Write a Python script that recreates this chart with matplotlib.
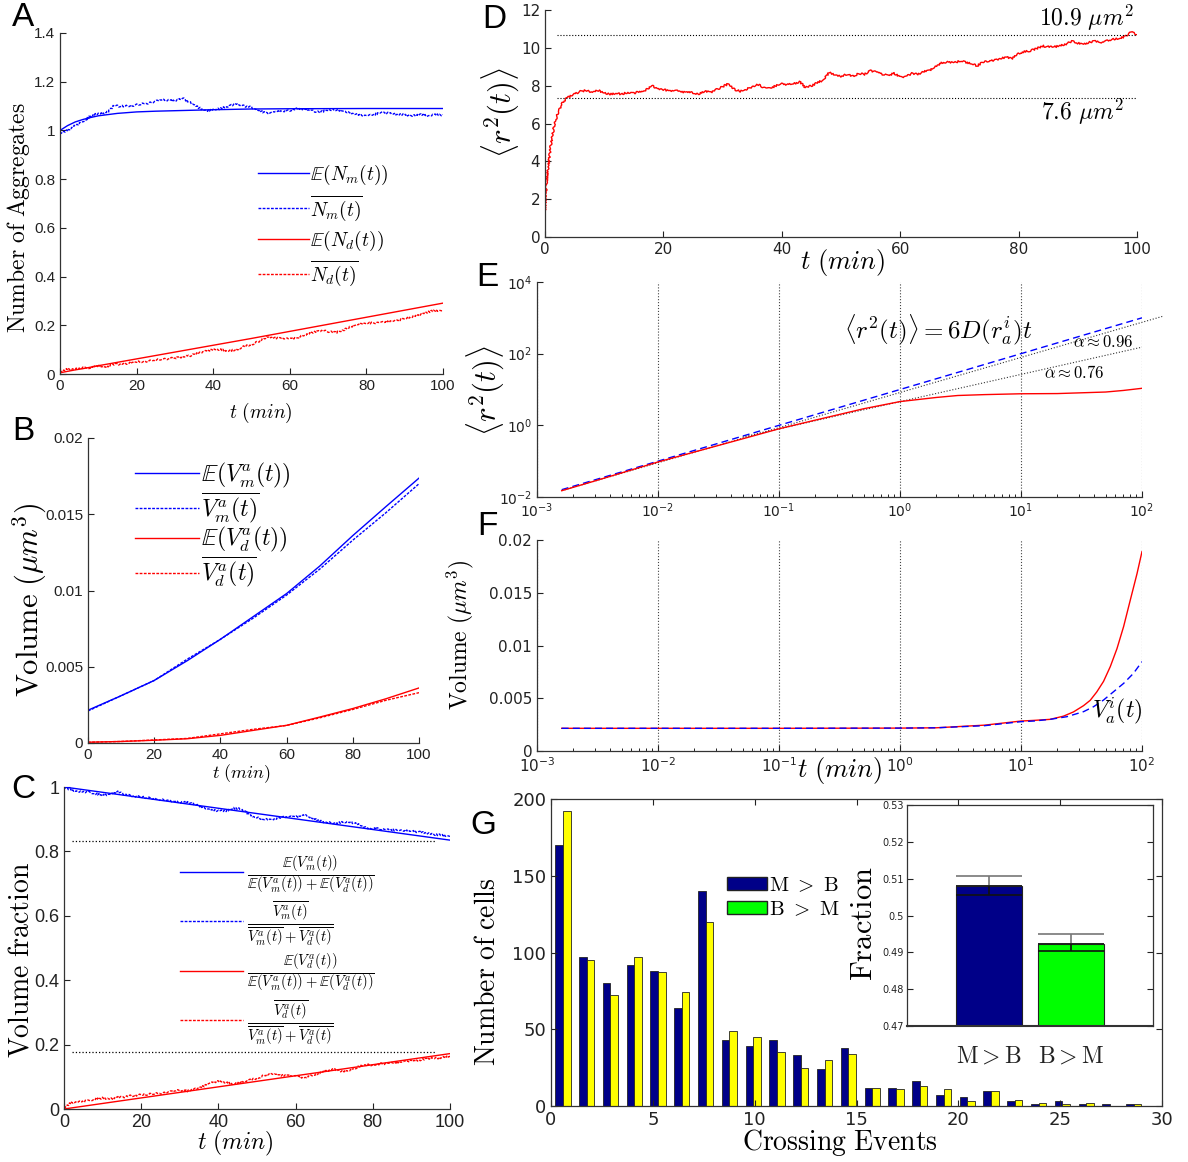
import numpy as np
import matplotlib
matplotlib.use('Agg')
import matplotlib.pyplot as plt
from matplotlib.lines import Line2D
from matplotlib.patches import Patch
from matplotlib.ticker import FormatStrFormatter, NullLocator, LogLocator

plt.rcParams['mathtext.fontset'] = 'cm'
plt.rcParams['font.family'] = ['DejaVu Sans']
plt.rcParams['axes.unicode_minus'] = False

# ---------------- data ----------------
# Panel A: number of aggregates
tA_model = [0, 2, 4, 6, 8, 10, 15, 20, 25, 30, 40, 50, 60, 80, 100]
A_Nm_model = [1.0, 1.02, 1.035, 1.045, 1.053, 1.06, 1.07, 1.076, 1.079, 1.081, 1.085, 1.088, 1.089, 1.09, 1.09]
A_Nd_model = [0.005, 0.011, 0.017, 0.022, 0.028, 0.034, 0.048, 0.062, 0.076, 0.09, 0.118, 0.146, 0.175, 0.233, 0.291]
t_obs = list(range(0, 101, 2))
A_Nm_obs = [0.99, 1.0, 1.02, 1.035, 1.06, 1.07, 1.07, 1.1, 1.1, 1.1, 1.105, 1.11, 1.115, 1.125, 1.125,
            1.12, 1.132, 1.115, 1.095, 1.08, 1.085, 1.09, 1.1, 1.11, 1.1, 1.095, 1.08, 1.07, 1.075, 1.08,
            1.08, 1.09, 1.085, 1.08, 1.075, 1.085, 1.085, 1.08, 1.07, 1.065, 1.06, 1.065, 1.075, 1.07,
            1.065, 1.065, 1.06, 1.065, 1.06, 1.065, 1.062]
A_Nd_obs = [0.01, 0.02, 0.02, 0.025, 0.025, 0.035, 0.03, 0.04, 0.04, 0.045, 0.05, 0.05, 0.055, 0.06, 0.062,
            0.066, 0.07, 0.075, 0.085, 0.095, 0.1, 0.1, 0.095, 0.1, 0.113, 0.12, 0.135, 0.152, 0.148, 0.145,
            0.144, 0.15, 0.16, 0.17, 0.178, 0.175, 0.17, 0.18, 0.195, 0.206, 0.208, 0.21, 0.212, 0.215,
            0.22, 0.226, 0.235, 0.245, 0.255, 0.26, 0.262]

# Panel B: aggregate volumes
tB = [0, 10, 20, 30, 40, 50, 60, 70, 80, 90, 100]
B_Vm_model = [0.00215, 0.0031, 0.0041, 0.0054, 0.0068, 0.0083, 0.0098, 0.0116, 0.0136, 0.0155, 0.01737]
B_Vm_obs = [0.0021, 0.0031, 0.0041, 0.0055, 0.0068, 0.0082, 0.0097, 0.0114, 0.0133, 0.0151, 0.0170]
B_Vd_model = [0.00005, 0.0001, 0.00018, 0.00028, 0.0005, 0.00083, 0.00116, 0.0017, 0.00226, 0.0029, 0.00361]
B_Vd_obs = [0.00005, 0.0001, 0.0002, 0.0003, 0.0006, 0.0009, 0.00115, 0.00165, 0.0022, 0.0028, 0.0033]

# Panel C: volume fractions
tC_model = [0, 100]
C_m_model = [1.0, 0.835]
C_d_model = [0.0, 0.172]
C_m_obs = [1.0, 0.99, 0.985, 0.985, 0.98, 0.974, 0.978, 0.985, 0.975, 0.972, 0.969, 0.966, 0.962, 0.96,
           0.956, 0.953, 0.952, 0.945, 0.938, 0.928, 0.926, 0.926, 0.934, 0.932, 0.915, 0.905, 0.899, 0.9,
           0.905, 0.907, 0.907, 0.913, 0.905, 0.895, 0.89, 0.888, 0.89, 0.892, 0.885, 0.874, 0.871, 0.87,
           0.867, 0.866, 0.864, 0.863, 0.86, 0.856, 0.853, 0.85, 0.848]
C_d_obs = [0.005, 0.02, 0.022, 0.025, 0.03, 0.034, 0.032, 0.036, 0.038, 0.042, 0.044, 0.046, 0.048, 0.05,
           0.055, 0.058, 0.056, 0.062, 0.07, 0.082, 0.086, 0.082, 0.078, 0.085, 0.09, 0.095, 0.105, 0.11,
           0.105, 0.103, 0.101, 0.098, 0.103, 0.11, 0.118, 0.124, 0.117, 0.12, 0.13, 0.137, 0.137, 0.14,
           0.142, 0.145, 0.147, 0.15, 0.152, 0.155, 0.158, 0.16, 0.165]
C_ref_levels = [0.832, 0.177]

# Panel D: mean squared displacement
tD = [0, 0.2, 0.5, 1, 1.5, 2, 2.5, 3, 3.5, 4] + list(range(5, 101))
D_msd = [1.4, 2.6, 3.6, 4.9, 5.8, 6.4, 6.8, 7.1, 7.3, 7.4,
         7.55, 7.7, 7.75, 7.65, 7.75, 7.6, 7.55, 7.6, 7.55, 7.65, 7.6, 7.7, 7.75, 8.0, 7.85, 7.8,
         7.7, 7.75, 7.65, 7.7, 7.6, 7.55, 7.7, 7.65, 7.8, 7.95, 8.1, 7.8, 7.7, 7.8, 7.95, 8.05, 7.9,
         7.85, 8.0, 8.1, 8.05, 8.1, 8.2, 7.9, 8.0, 8.15, 8.3, 8.7, 8.55, 8.5, 8.6, 8.5, 8.65, 8.6,
         8.8, 8.7, 8.6, 8.55, 8.65, 8.45, 8.5, 8.65, 8.6, 8.75, 8.8, 9.0, 9.2, 9.25, 9.2, 9.3, 9.25,
         9.15, 9.05, 9.25, 9.3, 9.35, 9.45, 9.5, 9.45, 9.7, 9.8, 9.85, 9.95, 10.1, 10.05, 10.05, 10.1,
         10.2, 10.35, 10.25, 10.2, 10.3, 10.35, 10.3, 10.4, 10.45, 10.5, 10.6, 10.85, 10.7]
D_ref_levels = [10.68, 7.37]

# Panel E: log-log MSD
tE = [0.0016, 0.003, 0.005, 0.01, 0.02, 0.05, 0.1, 0.2, 0.5, 1.0, 2, 3, 5, 10, 20, 50, 70, 100]
E_msd = [0.015, 0.028, 0.047, 0.095, 0.18, 0.42, 0.8, 1.4, 2.9, 4.6, 6.0, 6.8, 7.2, 7.6, 7.7, 8.5, 9.4, 10.8]
E_free_t = [0.0016, 100]
E_free = [0.016, 1000]
E_fit096_t = [0.0016, 147]
E_fit096 = [0.015, 1094]
E_fit076_t = [0.05, 100]
E_fit076 = [0.47, 152]

# Panel F: volume vs log time
tF_red = [0.0016, 0.1, 1, 2, 5, 10, 12.7, 17.4, 22.4, 27.1, 32.9, 37.3, 42.3, 48.1, 54.7, 62.1, 70.5,
          80, 90.9, 100]
F_red = [0.00215, 0.00215, 0.00217, 0.0022, 0.00245, 0.00284, 0.0029, 0.0030, 0.0033, 0.0037, 0.0043,
         0.0048, 0.0056, 0.0066, 0.0080, 0.0097, 0.0118, 0.0143, 0.0168, 0.0189]
tF_blue = [0.0016, 0.1, 1, 2, 5, 10, 12.7, 17.4, 23.9, 32.9, 39.8, 48.1, 58.2, 70.5, 85, 100]
F_blue = [0.00215, 0.00215, 0.00217, 0.0022, 0.0024, 0.00278, 0.00284, 0.0030, 0.00325, 0.00373, 0.0042,
          0.00483, 0.00562, 0.00641, 0.00736, 0.00847]

# Panel G: crossing events histogram
G_range = (0, 29.2)
G_MB = [170, 97, 80, 92, 88, 64, 140, 43, 39, 43, 33, 24, 38, 12, 12, 16, 7, 6, 10, 3, 1, 3, 1, 1, 1]
G_BM = [192, 95, 72, 97, 87, 74, 120, 49, 45, 35, 25, 30, 34, 12, 11, 13, 11, 3, 10, 4, 2, 1, 2, 0, 1]
inset_labels = ['M{>}B', 'B{>}M']
inset_vals = [0.508, 0.4922]
inset_err_up = [0.0027, 0.0028]
inset_err_lo = [0.0023, 0.0018]

# ---------------- layout ----------------
W, H = 1188, 1162
fig = plt.figure(figsize=(W / 100, H / 100), dpi=100)


def box(l, t, r, b):
    return [l / W, 1 - b / H, (r - l) / W, (b - t) / H]


def fpos(x, y):
    return (x / W, 1 - y / H)


BLUE = '#0000FF'
RED = '#FF0000'
SPINE = '#333333'
JITTER = (0.9, 2.0, 2.5)   # rendering style for the simulated (noisy) traces


def style(ax, family, size, box_on=False):
    ax.tick_params(direction='in', length=4, width=0.8, labelsize=size, colors='#222222',
                   labelfontfamily=family, top=box_on, right=box_on)
    ax.tick_params(which='minor', direction='in', length=2, width=0.6, top=box_on, right=box_on)
    for s in ['top', 'right']:
        ax.spines[s].set_visible(box_on)
    for s in ax.spines.values():
        s.set_color(SPINE)
        s.set_linewidth(0.9)
    ax.set_facecolor('none')


def set_labels(ax, xlabel=None, xpos=None, xsize=14, ylabel=None, ypos=None, ysize=14):
    if xlabel is not None:
        ax.set_xlabel(xlabel, fontsize=xsize)
        ax.xaxis.set_label_coords(*fpos(*xpos), transform=fig.transFigure)
        ax.xaxis.label.set_va('center')
    if ylabel is not None:
        ax.set_ylabel(ylabel, fontsize=ysize)
        ax.yaxis.set_label_coords(*fpos(*ypos), transform=fig.transFigure)
        ax.yaxis.label.set_va('center')


def panel_label(ch, x, y, family='Liberation Sans'):
    fig.text(*fpos(x, y), ch, fontsize=24, family=[family, 'Liberation Sans', 'DejaVu Sans'],
             ha='center', va='center')


def noisy(ax, x, y, **kw):
    ln, = ax.plot(x, y, **kw)
    ln.set_sketch_params(*JITTER)
    return ln


# ---- Panel A ----
axA = fig.add_axes(box(60, 33, 443, 374))
axA.plot(tA_model, A_Nm_model, color=BLUE, lw=1)
noisy(axA, t_obs, A_Nm_obs, color=BLUE, lw=1, ls=(0, (2, 1)))
axA.plot(tA_model, A_Nd_model, color=RED, lw=1)
noisy(axA, t_obs, A_Nd_obs, color=RED, lw=1, ls=(0, (2, 1)))
axA.set_xlim(0, 100)
axA.set_ylim(0, 1.4)
axA.set_xticks(range(0, 101, 20))
axA.set_yticks(np.arange(0, 1.41, 0.2))
axA.yaxis.set_major_formatter(FormatStrFormatter('%g'))
style(axA, 'Liberation Sans', 11)
set_labels(axA, r'$t\ (min)$', (261, 413), 14, r'$\mathrm{Number\ of\ Aggregates}$', (19, 218), 17)
hA = [Line2D([], [], color=BLUE, lw=1), Line2D([], [], color=BLUE, lw=1, ls=(0, (2, 1))),
      Line2D([], [], color=RED, lw=1), Line2D([], [], color=RED, lw=1, ls=(0, (2, 1)))]
lA = [r'$\mathbb{E}(N_m(t))$', r'$\overline{N_m(t)}$', r'$\mathbb{E}(N_d(t))$', r'$\overline{N_d(t)}$']
axA.legend(hA, lA, loc='upper left', bbox_to_anchor=fpos(258, 163), bbox_transform=fig.transFigure,
           frameon=False, fontsize=14, handlelength=2.6, handletextpad=0.1, labelspacing=0.3,
           borderpad=0, borderaxespad=0)
panel_label('A', 23, 18)

# ---- Panel B ----
axB = fig.add_axes(box(88, 438, 419, 743))
axB.plot(tB, B_Vm_model, color=BLUE, lw=1)
axB.plot(tB, B_Vm_obs, color=BLUE, lw=1, ls=(0, (2, 1)))
axB.plot(tB, B_Vd_model, color=RED, lw=1)
axB.plot(tB, B_Vd_obs, color=RED, lw=1, ls=(0, (2, 1)))
axB.set_xlim(0, 100)
axB.set_ylim(0, 0.02)
axB.set_xticks(range(0, 101, 20))
axB.set_yticks([0, 0.005, 0.01, 0.015, 0.02])
axB.yaxis.set_major_formatter(FormatStrFormatter('%g'))
style(axB, 'Liberation Sans', 11)
set_labels(axB, r'$t\ (min)$', (241, 774), 13, r'$\mathrm{Volume}\ (\mu m^3)$', (30, 600), 22)
lB = [r'$\mathbb{E}(V^a_m(t))$', r'$\overline{V^a_m(t)}$', r'$\mathbb{E}(V^a_d(t))$', r'$\overline{V^a_d(t)}$']
axB.legend(hA, lB, loc='upper left', bbox_to_anchor=fpos(135, 461), bbox_transform=fig.transFigure,
           frameon=False, fontsize=17, handlelength=2.7, handletextpad=0.1, labelspacing=0.02,
           borderpad=0, borderaxespad=0)
panel_label('B', 23, 432)

# ---- Panel C ----
axC = fig.add_axes(box(64, 787, 450, 1109))
axC.plot(tC_model, C_m_model, color=BLUE, lw=1)
noisy(axC, t_obs, C_m_obs, color=BLUE, lw=1, ls=(0, (2, 1)))
axC.plot(tC_model, C_d_model, color=RED, lw=1)
noisy(axC, t_obs, C_d_obs, color=RED, lw=1, ls=(0, (2, 1)))
axC.hlines(C_ref_levels, 2, 96, colors='k', linestyles=':', lw=0.9)
axC.set_xlim(0, 100)
axC.set_ylim(0, 1.0)
axC.set_xticks(range(0, 101, 20))
axC.set_yticks(np.arange(0, 1.01, 0.2))
axC.yaxis.set_major_formatter(FormatStrFormatter('%g'))
style(axC, 'Liberation Sans', 13)
set_labels(axC, r'$t\ (min)$', (235, 1143), 17, r'$\mathrm{Volume\ fraction}$', (21, 960), 20)
lC = [r'$\frac{\mathbb{E}(V^a_m(t))}{\mathbb{E}(V^a_m(t))+\mathbb{E}(V^a_d(t))}$',
      r'$\frac{\overline{V^a_m(t)}}{\overline{V^a_m(t)}+\overline{V^a_d(t)}}$',
      r'$\frac{\mathbb{E}(V^a_d(t))}{\mathbb{E}(V^a_m(t))+\mathbb{E}(V^a_d(t))}$',
      r'$\frac{\overline{V^a_d(t)}}{\overline{V^a_m(t)}+\overline{V^a_d(t)}}$']
axC.legend(hA, lC, loc='upper left', bbox_to_anchor=fpos(180, 853), bbox_transform=fig.transFigure,
           frameon=False, fontsize=15, handlelength=3.0, handletextpad=0.2, labelspacing=0.18,
           borderpad=0, borderaxespad=0)
panel_label('C', 23, 790)

# ---- Panel D ----
axD = fig.add_axes(box(545, 10, 1137, 237))
noisy(axD, tD, D_msd, color=RED, lw=1)
axD.hlines(D_ref_levels, 2, 100, colors='k', linestyles=':', lw=0.8)
axD.set_xlim(0, 100)
axD.set_ylim(0, 12)
axD.set_xticks(range(0, 101, 20))
axD.set_yticks(range(0, 13, 2))
style(axD, 'DejaVu Sans', 11)
set_labels(axD, r'$t\ (min)$', (843, 262), 19, r'$\langle r^2(t)\rangle$', (500, 112), 22)
fig.text(*fpos(1086, 18), r'$10.9\ \mu m^2$', fontsize=17, ha='center', va='center')
fig.text(*fpos(1083, 112), r'$7.6\ \mu m^2$', fontsize=17, ha='center', va='center')
panel_label('D', 494, 19, 'Liberation Sans Narrow')

# ---- Panel E ----
axE = fig.add_axes(box(537, 282, 1142, 497))
axE.set_xscale('log')
axE.set_yscale('log')
axE.plot(E_free_t, E_free, color=BLUE, lw=1, ls=(0, (5, 3)))
axE.plot(E_fit096_t, E_fit096, color='#333333', lw=0.8, ls=':', clip_on=False)
axE.plot(E_fit076_t, E_fit076, color='#333333', lw=0.8, ls=':')
axE.plot(tE, E_msd, color=RED, lw=1)
axE.set_xlim(1e-3, 1e2)
axE.set_ylim(1e-2, 1e4)
axE.set_xticks([1e-3, 1e-2, 1e-1, 1, 10, 100])
axE.set_yticks([1e-2, 1, 1e2, 1e4])
axE.yaxis.set_minor_locator(NullLocator())
axE.xaxis.set_minor_locator(LogLocator(base=10, subs=np.arange(2, 10)))
axE.grid(axis='x', which='major', ls=':', color='#444444', lw=0.8)
style(axE, 'DejaVu Sans', 10)
set_labels(axE, ylabel=r'$\langle r^2(t)\rangle$', ypos=(485, 390), ysize=22)
fig.text(*fpos(938, 330), r'$\langle r^2(t)\rangle = 6D(r^i_a)t$', fontsize=18, ha='center', va='center')
fig.text(*fpos(1103, 342), r'$\alpha\approx0.96$', fontsize=12, ha='center', va='center')
fig.text(*fpos(1074, 373), r'$\alpha\approx0.76$', fontsize=12, ha='center', va='center')
panel_label('E', 487, 277, 'Liberation Sans Narrow')

# ---- Panel F ----
axF = fig.add_axes(box(537, 540, 1142, 751))
axF.set_xscale('log')
axF.plot(tF_red, F_red, color=RED, lw=1)
axF.plot(tF_blue, F_blue, color=BLUE, lw=1, ls=(0, (5, 3)))
axF.set_xlim(1e-3, 1e2)
axF.set_ylim(0, 0.02)
axF.set_xticks([1e-3, 1e-2, 1e-1, 1, 10, 100])
axF.xaxis.set_minor_locator(LogLocator(base=10, subs=np.arange(2, 10)))
axF.set_yticks([0, 0.005, 0.01, 0.015, 0.02])
axF.yaxis.set_major_formatter(FormatStrFormatter('%g'))
axF.grid(axis='x', which='major', ls=':', color='#444444', lw=0.8)
style(axF, 'DejaVu Sans', 11)
set_labels(axF, r'$t\ (min)$', (840, 770), 19, r'$\mathrm{Volume}\ (\mu m^3)$', (460, 635), 17)
fig.text(*fpos(1117, 711), r'$V^i_a(t)$', fontsize=17, ha='center', va='center')
panel_label('F', 487, 527, 'Liberation Sans Narrow')

# ---- Panel G ----
axG = fig.add_axes(box(551, 799, 1162, 1106))
edges = np.linspace(G_range[0], G_range[1], len(G_MB) + 1)
centers = (edges[:-1] + edges[1:]) / 2
bw = (edges[1] - edges[0]) * 0.32
axG.bar(centers - bw / 2, G_MB, width=bw, color='#000088', edgecolor='#222222', lw=0.6)
axG.bar(centers + bw / 2, G_BM, width=bw, color='#FFFF00', edgecolor='#222222', lw=0.6)
axG.set_xlim(0, 30)
axG.set_ylim(0, 200)
axG.set_xticks(range(0, 31, 5))
axG.set_yticks(range(0, 201, 50))
style(axG, 'DejaVu Sans', 13, box_on=True)
set_labels(axG, r'$\mathrm{Crossing\ Events}$', (840, 1143), 20, r'$\mathrm{Number\ of\ cells}$', (487, 972), 20)
hG = [Patch(facecolor='#000088', edgecolor='#222222'), Patch(facecolor='#00FF00', edgecolor='#222222')]
axG.legend(hG, [r'$\mathrm{M\ >\ B}$', r'$\mathrm{B\ >\ M}$'], loc='upper left',
           bbox_to_anchor=fpos(727, 875), bbox_transform=fig.transFigure, frameon=False,
           fontsize=15, handlelength=1.9, handleheight=0.6, handletextpad=0.1, labelspacing=0.2,
           borderpad=0, borderaxespad=0)
panel_label('G', 483, 826)

# inset
axI = fig.add_axes(box(907, 805, 1153, 1026))
xi = [1, 2]
axI.bar(xi, inset_vals, width=0.8, color=['#000088', '#00FF00'], edgecolor='#222222', lw=0.8)
axI.errorbar(xi, inset_vals, yerr=[[0, 0], inset_err_up], fmt='none', ecolor='#777777',
             elinewidth=1.2, capsize=24, capthick=1.2)
axI.errorbar(xi, inset_vals, yerr=[inset_err_lo, [0, 0]], fmt='none', ecolor='#111111',
             elinewidth=1.2, capsize=24, capthick=1.2)
axI.set_xlim(0, 3)
axI.set_ylim(0.47, 0.53)
axI.set_yticks(np.arange(0.47, 0.5301, 0.01))
axI.yaxis.set_major_formatter(FormatStrFormatter('%g'))
axI.set_xticks(xi)
axI.set_xticklabels([r'$\mathrm{%s}$' % s for s in inset_labels])
style(axI, 'DejaVu Sans', 7, box_on=True)
axI.tick_params(axis='x', length=0, pad=13, labelsize=17)
axI.tick_params(axis='y', pad=2)
axI.spines['bottom'].set_linewidth(1.5)
axI.set_facecolor('white')
set_labels(axI, ylabel=r'$\mathrm{Fraction}$', ypos=(864, 924), ysize=22)

fig.savefig('out.png', dpi=100)
